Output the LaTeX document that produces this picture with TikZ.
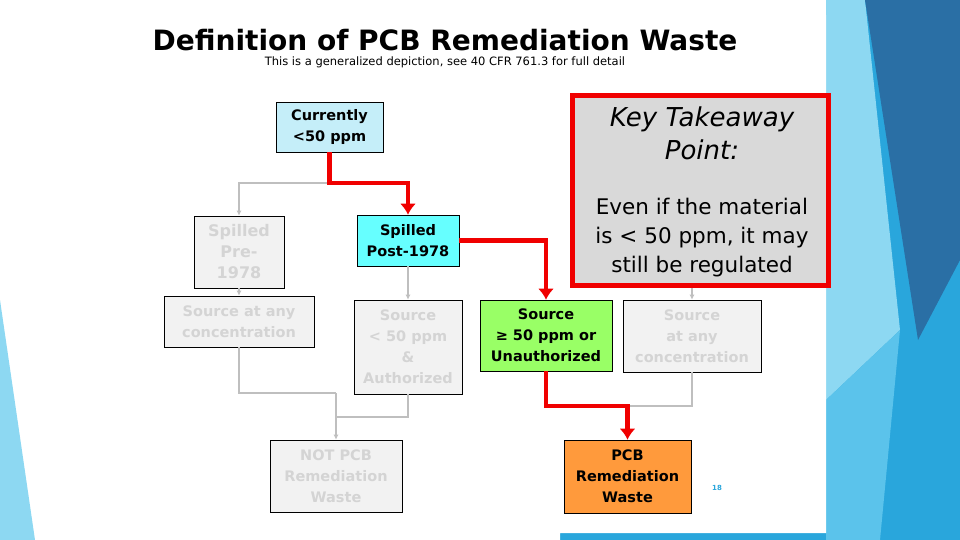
\documentclass[tikz,border=0pt]{standalone}
\usepackage{fontspec}
\setmainfont{DejaVu Sans}
\usetikzlibrary{arrows.meta}
\definecolor{pale}{HTML}{F2F2F2}
\definecolor{fade}{HTML}{D4D4D4}
\definecolor{lblue}{HTML}{C5EEF9}
\definecolor{cyanb}{HTML}{66FFFF}
\definecolor{greenb}{HTML}{99FF66}
\definecolor{orangeb}{HTML}{FF9A3C}
\definecolor{keyg}{HTML}{D9D9D9}
\definecolor{redl}{HTML}{F00000}
\definecolor{conn}{HTML}{BFBFBF}
\definecolor{bgA}{HTML}{8DD8F2}
\definecolor{bgB}{HTML}{29A6DC}
\definecolor{bgC}{HTML}{2A6FA5}
\definecolor{bgD}{HTML}{5BC3EB}
\begin{document}
\begin{tikzpicture}[x=1pt,y=-1pt,
  box/.style={draw=black,line width=0.6pt,align=center,inner sep=0pt,font=\fontsize{14.5}{21}\selectfont\bfseries},
  faded/.style={box,fill=pale,text=fade},
  gl/.style={draw=conn,line width=2pt,-{Latex[length=5pt,width=5pt]}},
  rl/.style={draw=redl,line width=4.5pt,-{Latex[length=11pt,width=16pt]}}]
\useasboundingbox (0,0) rectangle (960,540);
% background
\fill[white] (0,0) rectangle (960,540);
\fill[bgA] (0,300) -- (35,540) -- (0,540) -- cycle;
\fill[bgB] (826,0) rectangle (960,540);
\fill[bgB] (560,533) rectangle (960,540);
\fill[bgA] (826,0) -- (865,0) -- (900,330) -- (826,400) -- cycle;
\fill[bgC] (865,0) -- (960,0) -- (960,260) -- (918,340) -- cycle;
\fill[bgD] (826,400) -- (900,330) -- (880,540) -- (826,540) -- cycle;
\fill[white] (826,15) -- (826,533) -- (560,533) -- (560,540) -- (150,540) -- (150,15) -- cycle;
% title
\node[font=\fontsize{28}{32}\selectfont\bfseries] (title) at (445,40) {Definition of PCB Remediation Waste};
\node[font=\fontsize{11.5}{13}\selectfont] (sub) at (445,62) {This is a generalized depiction, see 40 CFR 761.3 for full detail};
% nodes
\node[box,fill=lblue,minimum width=107pt,minimum height=50pt] (cur) at (329.5,127) {Currently\\<50 ppm};
\node[faded,minimum width=90pt,minimum height=72pt,font=\fontsize{16}{21}\selectfont\bfseries] (pre) at (239,252) {Spilled\\Pre-\\1978};
\node[faded,minimum width=150pt,minimum height=51pt] (srcl) at (239,321.5) {Source at any\\concentration};
\node[box,fill=cyanb,minimum width=102pt,minimum height=51pt] (post) at (408,240.5) {Spilled\\Post-1978};
\node[faded,minimum width=108pt,minimum height=94pt] (src50) at (408,347) {Source\\< 50 ppm\\\&\\Authorized};
\node[faded,minimum width=132pt,minimum height=72pt] (notpcb) at (336,476) {NOT PCB\\Remediation\\Waste};
\node[box,fill=greenb,minimum width=132pt,minimum height=71pt] (srcge) at (546,335.5) {Source\\≥ 50 ppm or\\Unauthorized};
\node[faded,minimum width=138pt,minimum height=72pt] (srcr) at (692,336) {Source\\at any\\concentration};
\node[box,fill=orangeb,minimum width=127pt,minimum height=73pt] (pcb) at (627.5,476.5) {PCB\\Remediation\\Waste};
\node[draw=redl,line width=5pt,fill=keyg,minimum width=256pt,minimum height=190pt,inner sep=0pt] (key) at (700,190.5) {};
\node[font=\fontsize{26}{33}\selectfont\itshape,align=center] (keyt) at (702,133) {Key Takeaway\\Point:};
\node[font=\fontsize{21.5}{29}\selectfont,align=center] (keyb) at (702,238) {Even if the material\\is < 50 ppm, it may\\still be regulated};
\node[font=\fontsize{7}{8}\selectfont\bfseries,text=bgB] (pg) at (717,488) {18};
% connectors
\coordinate (j1) at (329.5,183);
\coordinate (j2) at (336,393);
\coordinate (j3) at (627.5,406);
\draw[gl] (j1) -| (pre.north);
\draw[gl] (pre.south) -- (srcl.north);
\draw[gl] (post.south) -- (src50.north);
\draw[gl] (key.south -| srcr.north) -- (srcr.north);
\draw[draw=conn,line width=2pt] (srcl.south) |- (j2);
\draw[draw=conn,line width=2pt] (src50.south) |- (336,417);
\draw[gl] (j2) -- (notpcb.north);
\draw[draw=conn,line width=2pt] (srcr.south) |- (j3);
\draw[rl] (cur.south) -- (j1) -| (post.north);
\draw[rl] (post.east) -| (srcge.north);
\draw[rl] (srcge.south) |- (j3) -- (pcb.north);
\end{tikzpicture}
\end{document}
